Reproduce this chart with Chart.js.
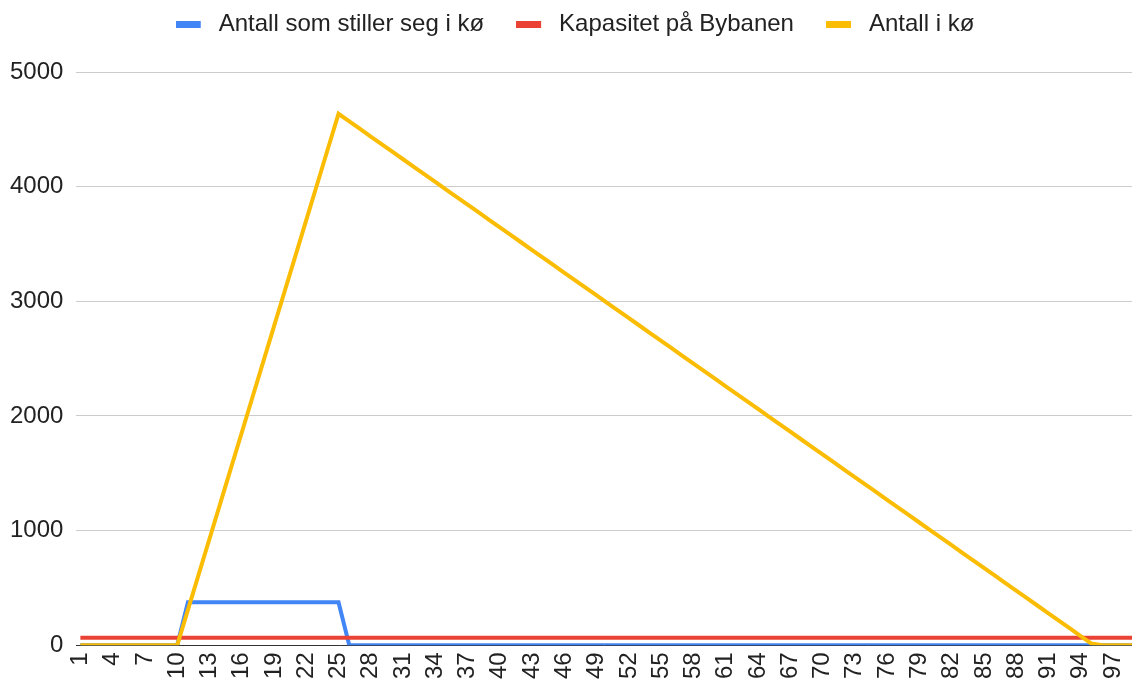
<!DOCTYPE html>
<html>
<head>
<meta charset="utf-8">
<title>Kø ved Bybanen</title>
<script src="https://cdn.jsdelivr.net/npm/chart.js@4.4.1/dist/chart.umd.min.js"></script>
<style>
  html, body { margin: 0; padding: 0; background: #fff; }
  #wrap { width: 1132px; height: 686px; position: relative; }
</style>
</head>
<body>
<div id="wrap"><canvas id="queueChart"></canvas></div>
<script>
// Chart data
const seriesNames = ['Antall som stiller seg i kø', 'Kapasitet på Bybanen', 'Antall i kø'];

// x categories 1..99 (the last one is cut off at the right edge)
const categories = [
    '1', '2', '3', '4', '5', '6', '7', '8', '9', '10',
    '11', '12', '13', '14', '15', '16', '17', '18', '19', '20',
    '21', '22', '23', '24', '25', '26', '27', '28', '29', '30',
    '31', '32', '33', '34', '35', '36', '37', '38', '39', '40',
    '41', '42', '43', '44', '45', '46', '47', '48', '49', '50',
    '51', '52', '53', '54', '55', '56', '57', '58', '59', '60',
    '61', '62', '63', '64', '65', '66', '67', '68', '69', '70',
    '71', '72', '73', '74', '75', '76', '77', '78', '79', '80',
    '81', '82', '83', '84', '85', '86', '87', '88', '89', '90',
    '91', '92', '93', '94', '95', '96', '97', '98', '99'
];

// every third category gets a label
const xTickLabels = ['1', '4', '7', '10', '13', '16', '19', '22', '25', '28', '31', '34', '37',
    '40', '43', '46', '49', '52', '55', '58', '61', '64', '67', '70', '73', '76', '79', '82',
    '85', '88', '91', '94', '97'];

// Antall som stiller seg i kø
const arrivals = [
    0, 0, 0, 0, 0, 0, 0, 0, 0, 0,
    375, 375, 375, 375, 375, 375, 375, 375, 375, 375,
    375, 375, 375, 375, 375, 0, 0, 0, 0, 0,
    0, 0, 0, 0, 0, 0, 0, 0, 0, 0,
    0, 0, 0, 0, 0, 0, 0, 0, 0, 0,
    0, 0, 0, 0, 0, 0, 0, 0, 0, 0,
    0, 0, 0, 0, 0, 0, 0, 0, 0, 0,
    0, 0, 0, 0, 0, 0, 0, 0, 0, 0,
    0, 0, 0, 0, 0, 0, 0, 0, 0, 0,
    0, 0, 0, 0, 0, 0, 0, 0, 0
];

// Kapasitet på Bybanen
const capacity = [
    66, 66, 66, 66, 66, 66, 66, 66, 66, 66,
    66, 66, 66, 66, 66, 66, 66, 66, 66, 66,
    66, 66, 66, 66, 66, 66, 66, 66, 66, 66,
    66, 66, 66, 66, 66, 66, 66, 66, 66, 66,
    66, 66, 66, 66, 66, 66, 66, 66, 66, 66,
    66, 66, 66, 66, 66, 66, 66, 66, 66, 66,
    66, 66, 66, 66, 66, 66, 66, 66, 66, 66,
    66, 66, 66, 66, 66, 66, 66, 66, 66, 66,
    66, 66, 66, 66, 66, 66, 66, 66, 66, 66,
    66, 66, 66, 66, 66, 66, 66, 66, 66
];

// Antall i kø
const queue = [
    0, 0, 0, 0, 0, 0, 0, 0, 0, 0,
    309, 618, 927, 1236, 1545, 1854, 2163, 2472, 2781, 3090,
    3399, 3708, 4017, 4326, 4635, 4569, 4503, 4437, 4371, 4305,
    4239, 4173, 4107, 4041, 3975, 3909, 3843, 3777, 3711, 3645,
    3579, 3513, 3447, 3381, 3315, 3249, 3183, 3117, 3051, 2985,
    2919, 2853, 2787, 2721, 2655, 2589, 2523, 2457, 2391, 2325,
    2259, 2193, 2127, 2061, 1995, 1929, 1863, 1797, 1731, 1665,
    1599, 1533, 1467, 1401, 1335, 1269, 1203, 1137, 1071, 1005,
    939, 873, 807, 741, 675, 609, 543, 477, 411, 345,
    279, 213, 147, 81, 15, 0, 0, 0, 0
];

// y axis
const yMin = 0;
const yMax = 5000;
const yStep = 1000;

// visible x window (category 1 sits a little in from the left edge)
const xMin = 0.63;
const xMax = 98.77;

const colors = ['#4285F4', '#EA4335', '#FBBC04'];
const fontFamily = '"Liberation Sans", Arial, sans-serif';

// Legend marker: flat bar with some extra room before the text
function makeLegendMarker(color) {
    const marker = document.createElement('canvas');
    marker.width = 31;
    marker.height = 7;
    const mctx = marker.getContext('2d');
    mctx.fillStyle = color;
    mctx.fillRect(0, 0, 25, 7);
    return marker;
}

// Move the legend up and a little to the right (like the original)
const legendPosition = {
    id: 'legendPosition',
    afterLayout(chart) {
        const legend = chart.legend;
        legend.left += 21;
        legend.top -= 26;
        legend.bottom -= 26;
    }
};

// Initialize Chart
const ctx = document.getElementById('queueChart');
new Chart(ctx, {
    type: 'line',
    data: {
        labels: categories,
        datasets: [
            { label: seriesNames[0], data: arrivals, borderColor: colors[0], backgroundColor: colors[0], pointStyle: makeLegendMarker(colors[0]), order: 3 },
            { label: seriesNames[1], data: capacity, borderColor: colors[1], backgroundColor: colors[1], pointStyle: makeLegendMarker(colors[1]), order: 2 },
            { label: seriesNames[2], data: queue, borderColor: colors[2], backgroundColor: colors[2], pointStyle: makeLegendMarker(colors[2]), order: 1 }
        ]
    },
    plugins: [legendPosition],
    options: {
        responsive: true,
        maintainAspectRatio: false,
        animation: false,
        devicePixelRatio: 1,
        layout: {
            padding: { top: 6, right: 0, bottom: 0, left: -3 }
        },
        elements: {
            line: { borderWidth: 4, tension: 0 },
            point: { radius: 0, hoverRadius: 0 }
        },
        plugins: {
            tooltip: { enabled: false },
            legend: {
                position: 'top',
                labels: {
                    usePointStyle: true,
                    pointStyleWidth: 31,
                    boxHeight: 7,
                    padding: 32,
                    color: '#222',
                    font: { family: fontFamily, size: 24 },
                    sort: (a, b) => a.datasetIndex - b.datasetIndex
                }
            }
        },
        scales: {
            x: {
                type: 'linear',
                min: xMin,
                max: xMax,
                grid: { display: false, drawTicks: false },
                border: { display: true, color: '#333', width: 1 },
                afterBuildTicks: (scale) => {
                    scale.ticks = xTickLabels.map(label => ({ value: Number(label) }));
                },
                afterFit: (scale) => {
                    scale.paddingLeft = 0;
                    scale.paddingRight = 0;
                },
                ticks: {
                    autoSkip: false,
                    minRotation: 90,
                    maxRotation: 90,
                    padding: 7,
                    color: '#222',
                    font: { family: fontFamily, size: 24 },
                    callback: (value) => String(value)
                }
            },
            y: {
                min: yMin,
                max: yMax,
                border: { display: false },
                grid: { color: '#cccccc', lineWidth: 1, drawTicks: false },
                ticks: {
                    stepSize: yStep,
                    padding: 13,
                    color: '#222',
                    font: { family: fontFamily, size: 24 },
                    callback: (value) => String(value)
                }
            }
        }
    }
});
</script>
</body>
</html>
